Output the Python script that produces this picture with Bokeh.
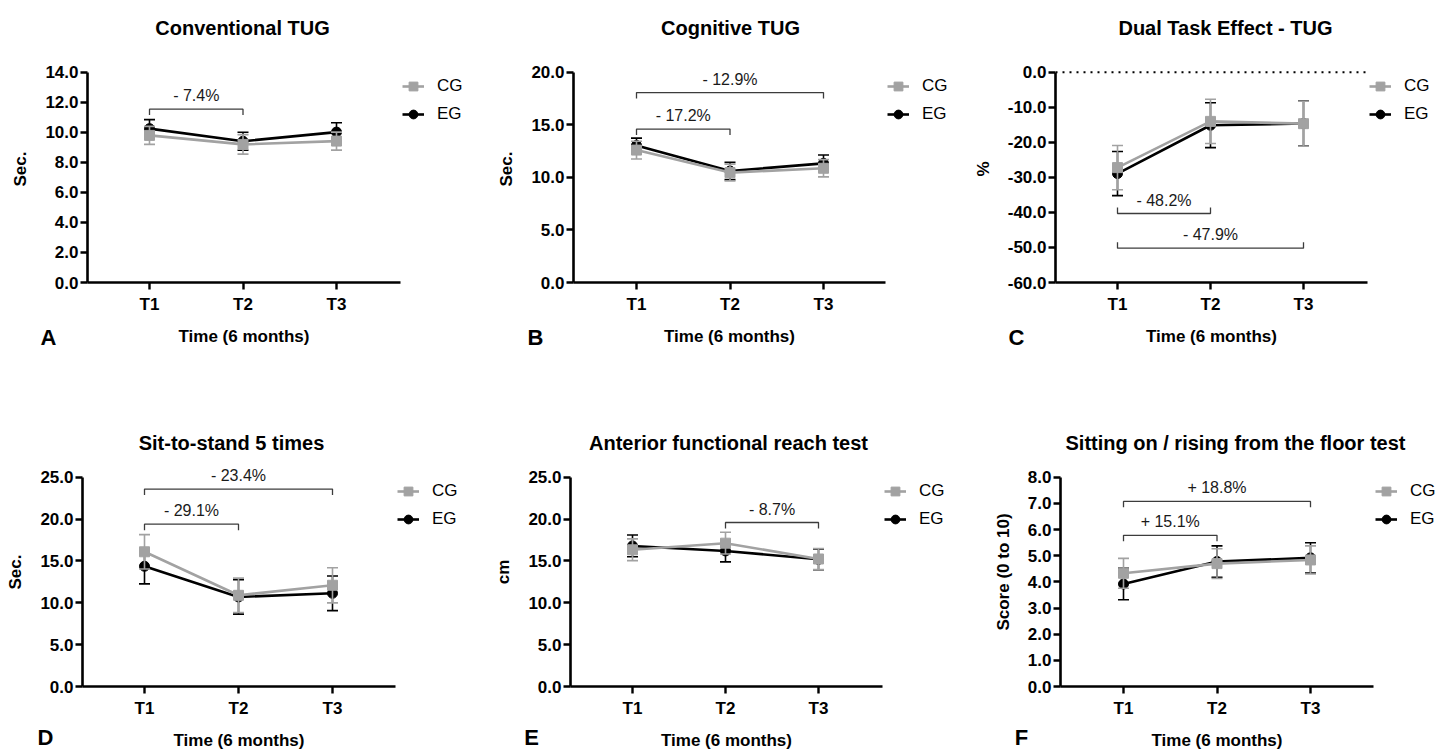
from bokeh.plotting import figure
from bokeh.layouts import column, row
from bokeh.models import (FixedTicker, NumeralTickFormatter, Label, Legend,
                          LegendItem, Range1d)
from bokeh.core.properties import value
from bokeh.embed import file_html
from bokeh.resources import INLINE

# ---------------- data ----------------
TIMES = [1, 2, 3]
TIME_LABELS = ["T1", "T2", "T3"]
SERIES = ["CG", "EG"]
X_TITLE = "Time (6 months)"

# A - Conventional TUG (sec)
a_cg = [9.80, 9.20, 9.42]
a_cg_err = [0.60, 0.65, 0.60]
a_eg = [10.25, 9.41, 10.02]
a_eg_err = [0.60, 0.60, 0.62]
a_brackets = [(1, 2, 11.55, "- 7.4%")]

# B - Cognitive TUG (sec)
b_cg = [12.60, 10.46, 10.87]
b_cg_err = [0.85, 0.80, 0.82]
b_eg = [13.04, 10.61, 11.34]
b_eg_err = [0.70, 0.82, 0.80]
b_brackets = [(1, 3, 18.08, "- 12.9%"), (1, 2, 14.60, "- 17.2%")]

# C - Dual Task Effect - TUG (%)
c_cg = [-27.2, -14.0, -14.65]
c_cg_err = [6.3, 6.3, 6.4]
c_eg = [-28.9, -15.1, -14.6]
c_eg_err = [6.3, 6.4, 6.4]
c_brackets = [(1, 2, -40.3, "- 48.2%"), (1, 3, -50.2, "- 47.9%")]

# D - Sit-to-stand 5 times (sec)
d_cg = [16.10, 10.90, 12.10]
d_cg_err = [2.05, 2.05, 2.10]
d_eg = [14.37, 10.70, 11.14]
d_eg_err = [2.10, 2.05, 2.07]
d_brackets = [(1, 3, 23.6, "- 23.4%"), (1, 2, 19.4, "- 29.1%")]

# E - Anterior functional reach test (cm)
e_cg = [16.34, 17.13, 15.24]
e_cg_err = [1.30, 1.30, 1.25]
e_eg = [16.80, 16.20, 15.20]
e_eg_err = [1.30, 1.30, 1.25]
e_brackets = [(2, 3, 19.6, "- 8.7%")]

# F - Sitting on / rising from the floor test (score)
f_cg = [4.33, 4.70, 4.84]
f_cg_err = [0.57, 0.57, 0.54]
f_eg = [3.92, 4.78, 4.92]
f_eg_err = [0.60, 0.60, 0.58]
f_brackets = [(1, 3, 7.08, "+ 18.8%"), (1, 2, 5.78, "+ 15.1%")]

# ---------------- style / layout ----------------
FONT = "Liberation Sans"
GRAY = "#a2a2a2"
BLACK = "#000000"
BRACKET_COLOR = "#3c3c3c"

COL_W = 479
ROW_H = 375
MAIN_BOTTOM = 32
ROWS = [dict(header=55, axis_top=72, axis_bottom=284, title_y=27, xlab_y=336, letter_y=337),
        dict(header=82, axis_top=102, axis_bottom=313, title_y=67, xlab_y=365, letter_y=362)]


def no_align(p):
    if "frame_align" in p.properties():
        p.frame_align = False
    return p


def text_strip(height, items):
    """A blank full-width strip (no axes) holding texts; y measured downward."""
    p = figure(width=COL_W, height=height, x_range=Range1d(0, COL_W),
               y_range=Range1d(height, 0), x_axis_type=None, y_axis_type=None,
               min_border=0, min_border_left=0, min_border_right=0,
               min_border_top=0, min_border_bottom=0,
               output_backend="svg", toolbar_location=None, tools="", title=None)
    no_align(p)
    p.outline_line_color = None
    p.xgrid.grid_line_color = None
    p.ygrid.grid_line_color = None
    for (x, y, txt, size) in items:
        p.text(x=[x], y=[y], text=[txt], text_font=value(FONT),
               text_font_size=value(size), text_font_style="bold",
               text_color=BLACK, text_align="center", text_baseline="middle")
    return p


def make_panel(title, ylabel, letter, cg, cg_err, eg, eg_err, ylo, yhi, ystep,
               brackets, bracket_up, geo, rowi, zero_line=False):
    r = ROWS[rowi]
    L, xend_px, t1, t3 = geo["L"], geo["end"], geo["t1"], geo["t3"]
    ppx = (t3 - t1) / 2.0
    xs = 1 - (t1 - L) / ppx
    xe = xs + (COL_W - L) / ppx
    x_axis_end = xs + (xend_px - L) / ppx

    fh = r["axis_bottom"] - r["header"]
    ppy = (r["axis_bottom"] - r["axis_top"]) / (yhi - ylo)
    ytop = ylo + fh / ppy

    p = figure(width=COL_W, height=fh + MAIN_BOTTOM,
               min_border_left=L, min_border_right=0,
               min_border_top=0, min_border_bottom=MAIN_BOTTOM,
               x_range=Range1d(xs, xe), y_range=Range1d(ylo, ytop),
               output_backend="svg", toolbar_location=None, tools="", title=None)
    no_align(p)
    p.outline_line_color = None
    p.background_fill_color = "white"
    p.border_fill_color = "white"
    p.xgrid.grid_line_color = None
    p.ygrid.grid_line_color = None

    for ax in (p.xaxis[0], p.yaxis[0]):
        ax.axis_line_width = 2.6
        ax.axis_line_color = BLACK
        ax.major_tick_line_width = 2.4
        ax.major_tick_line_color = BLACK
        ax.major_tick_out = 7
        ax.major_tick_in = 0
        ax.minor_tick_line_color = None
        ax.major_label_text_font = FONT
        ax.major_label_text_font_style = "bold"
        ax.major_label_text_font_size = "17px"
        ax.major_label_text_color = BLACK

    p.xaxis.ticker = FixedTicker(ticks=TIMES)
    p.xaxis.major_label_overrides = {t: l for t, l in zip(TIMES, TIME_LABELS)}
    p.xaxis.major_label_standoff = 5
    p.xaxis.bounds = (xs, x_axis_end)

    nticks = int(round((yhi - ylo) / ystep))
    p.yaxis.ticker = FixedTicker(ticks=[ylo + i * ystep for i in range(nticks + 1)])
    p.yaxis.formatter = NumeralTickFormatter(format="0.0")
    p.yaxis.major_label_standoff = 2
    p.yaxis.bounds = (ylo, yhi)
    p.yaxis.axis_label = ylabel
    p.yaxis.axis_label_text_font = FONT
    p.yaxis.axis_label_text_font_style = "bold"
    p.yaxis.axis_label_text_font_size = "17px"
    p.yaxis.axis_label_text_color = BLACK
    p.yaxis.axis_label_standoff = 12

    if zero_line:
        p.line([xs, x_axis_end], [0, 0], line_color=BLACK, line_width=2,
               line_dash="2 5")

    # significance brackets
    drop = 6.0 / ppy
    for (x0, x1, yb, txt) in brackets:
        d = drop if bracket_up else -drop
        p.line([x0, x0, x1, x1], [yb + d, yb, yb, yb + d],
               line_color=BRACKET_COLOR, line_width=1.3)
        p.add_layout(Label(x=(x0 + x1) / 2, y=yb, y_offset=13.5, text=txt,
                           text_font=FONT, text_font_size="16px",
                           text_color="#1a1a1a", text_align="center",
                           text_baseline="middle"))

    items = {}
    for name, mean, err, color, marker in (("EG", eg, eg_err, BLACK, "circle"),
                                            ("CG", cg, cg_err, GRAY, "square")):
        lo = [m - e for m, e in zip(mean, err)]
        hi = [m + e for m, e in zip(mean, err)]
        p.segment(x0=TIMES, y0=lo, x1=TIMES, y1=hi, line_color=color, line_width=1.6)
        p.scatter(TIMES, hi, marker="dash", size=11, line_color=color, line_width=1.6)
        p.scatter(TIMES, lo, marker="dash", size=11, line_color=color, line_width=1.6)
        ln = p.line(TIMES, mean, line_color=color, line_width=2.6)
        mk = p.scatter(TIMES, mean, marker=marker, size=10,
                       fill_color=color, line_color=color)
        items[name] = LegendItem(label=name, renderers=[ln, mk])

    leg_h = 22 * 2 + 6
    vx = (xend_px + 2) - L
    vy = r["axis_bottom"] - (r["axis_top"] + 4.5) - leg_h
    legend = Legend(items=[items[s] for s in SERIES], location=(vx, vy),
                    margin=0, padding=0, spacing=6, glyph_width=22,
                    glyph_height=22, label_height=22, label_standoff=13,
                    label_text_font=FONT, label_text_font_size="17px",
                    label_text_color=BLACK, border_line_color=None,
                    background_fill_alpha=0)
    p.add_layout(legend, "center")

    header = text_strip(r["header"], [(geo["title_x"], r["title_y"], title, "20px")])
    foot_top = r["axis_bottom"] + MAIN_BOTTOM
    footer = text_strip(ROW_H - foot_top,
                        [((L + xend_px) / 2.0, r["xlab_y"] - foot_top, X_TITLE, "17px"),
                         (geo["letter_x"], r["letter_y"] - foot_top, letter, "22px")])
    return column(header, p, footer, spacing=0)


GEO_A = dict(L=87, end=400, t1=149, t3=336, title_x=242, letter_x=48)
GEO_B = dict(L=94, end=406, t1=157, t3=344, title_x=251, letter_x=56)
GEO_C = dict(L=97, end=409, t1=159, t3=345, title_x=267, letter_x=58)
GEO_D = dict(L=82, end=395, t1=144, t3=332, title_x=231, letter_x=45)
GEO_E = dict(L=91, end=403, t1=153, t3=339, title_x=249, letter_x=52)
GEO_F = dict(L=102, end=415, t1=165, t3=352, title_x=277, letter_x=63)

A = make_panel("Conventional TUG", "Sec.", "A", a_cg, a_cg_err, a_eg, a_eg_err,
               0, 14, 2, a_brackets, False, GEO_A, 0)
B = make_panel("Cognitive TUG", "Sec.", "B", b_cg, b_cg_err, b_eg, b_eg_err,
               0, 20, 5, b_brackets, False, GEO_B, 0)
C = make_panel("Dual Task Effect - TUG", "%", "C", c_cg, c_cg_err, c_eg, c_eg_err,
               -60, 0, 10, c_brackets, True, GEO_C, 0, zero_line=True)
D = make_panel("Sit-to-stand 5 times", "Sec.", "D", d_cg, d_cg_err, d_eg, d_eg_err,
               0, 25, 5, d_brackets, False, GEO_D, 1)
E = make_panel("Anterior functional reach test", "cm", "E", e_cg, e_cg_err, e_eg,
               e_eg_err, 0, 25, 5, e_brackets, False, GEO_E, 1)
F = make_panel("Sitting on / rising from the floor test", "Score (0 to 10)", "F",
               f_cg, f_cg_err, f_eg, f_eg_err, 0, 8, 1, f_brackets, False, GEO_F, 1)

page = column(row(A, B, C, spacing=0), row(D, E, F, spacing=0), spacing=0)

open("out.html", "w").write(file_html(page, INLINE))
